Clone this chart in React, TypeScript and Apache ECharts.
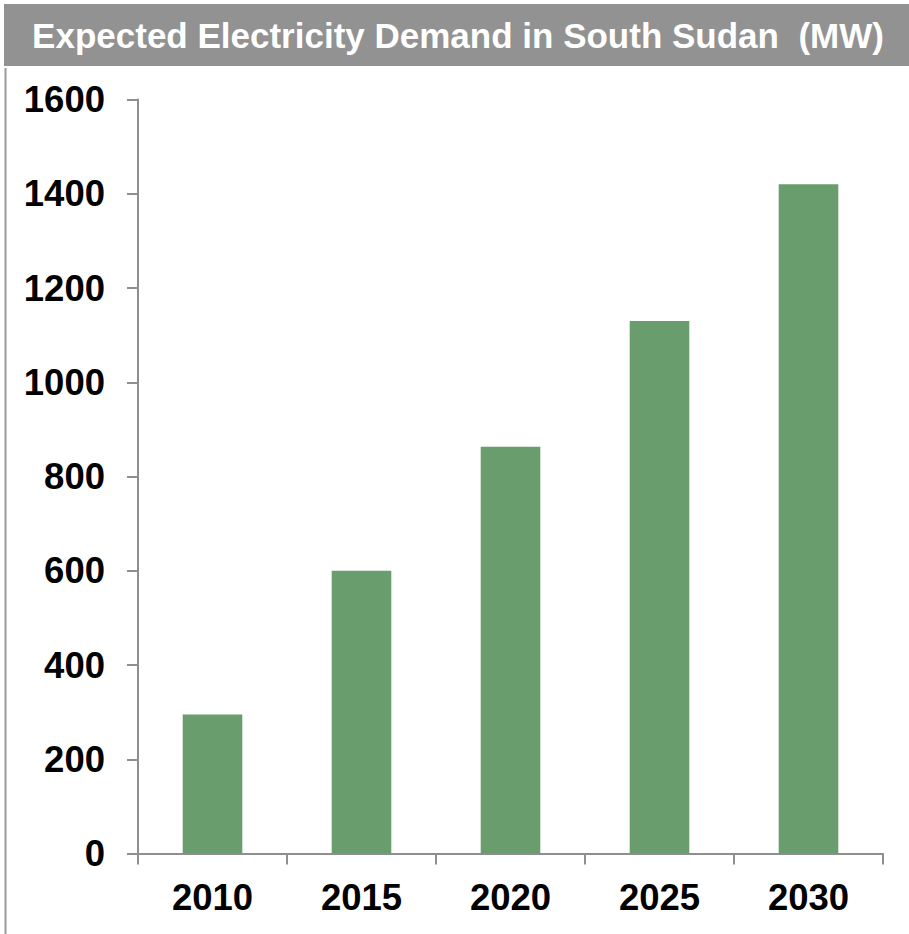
import React, { useEffect, useRef } from "react";
import * as echarts from "echarts";

const categories = ["2010", "2015", "2020", "2025", "2030"];
const demandMW = [295, 600, 863, 1130, 1420];
const yTicks = [0, 200, 400, 600, 800, 1000, 1200, 1400, 1600];
const titleText = "Expected Electricity Demand in South Sudan  (MW)";

const FONT = '"Liberation Sans", Arial, Helvetica, sans-serif';

export default function App() {
  const ref = useRef<HTMLDivElement>(null);
  useEffect(() => {
    if (!ref.current) return;
    const chart = echarts.init(ref.current, null, { renderer: "svg" });
    chart.setOption({
      animation: false,
      backgroundColor: "#ffffff",
      graphic: [
        {
          type: "rect",
          shape: { x: 4, y: 4, width: 905, height: 62 },
          style: { fill: "#929292" },
          silent: true,
        },
        {
          type: "line",
          shape: { x1: 5.5, y1: 68, x2: 5.5, y2: 934 },
          style: { stroke: "#9a9a9a", lineWidth: 2 },
          silent: true,
        },
        {
          type: "text",
          x: 458,
          y: 35,
          style: {
            text: titleText,
            fill: "#ffffff",
            font: `bold 35px ${FONT}`,
            textAlign: "center",
            textVerticalAlign: "middle",
          },
          silent: true,
        },
      ],
      grid: { left: 138, right: 26, top: 99.5, bottom: 80.5, containLabel: false },
      xAxis: {
        type: "category",
        data: categories,
        axisLine: { show: true, lineStyle: { color: "#8f8f8f", width: 2 } },
        axisTick: { show: true, length: 11, lineStyle: { color: "#8f8f8f", width: 2 } },
        axisLabel: {
          color: "#000000",
          fontFamily: FONT,
          fontWeight: "bold",
          fontSize: 36.5,
          margin: 25,
        },
        splitLine: { show: false },
      },
      yAxis: {
        type: "value",
        min: yTicks[0],
        max: yTicks[yTicks.length - 1],
        interval: 200,
        axisLine: { show: true, lineStyle: { color: "#8f8f8f", width: 2 } },
        axisTick: { show: true, length: 11, lineStyle: { color: "#8f8f8f", width: 2 } },
        axisLabel: {
          color: "#000000",
          fontFamily: FONT,
          fontWeight: "bold",
          fontSize: 36.5,
          margin: 33,
          formatter: (v: number) => String(v),
        },
        splitLine: { show: false },
      },
      series: [
        {
          type: "bar",
          data: demandMW,
          barWidth: "40%",
          itemStyle: { color: "#6a9d6d" },
        },
      ],
    });
    return () => chart.dispose();
  }, []);
  return (
    <div
      ref={ref}
      style={{ position: "fixed", left: 0, top: 0, width: 909, height: 934 }}
    />
  );
}
